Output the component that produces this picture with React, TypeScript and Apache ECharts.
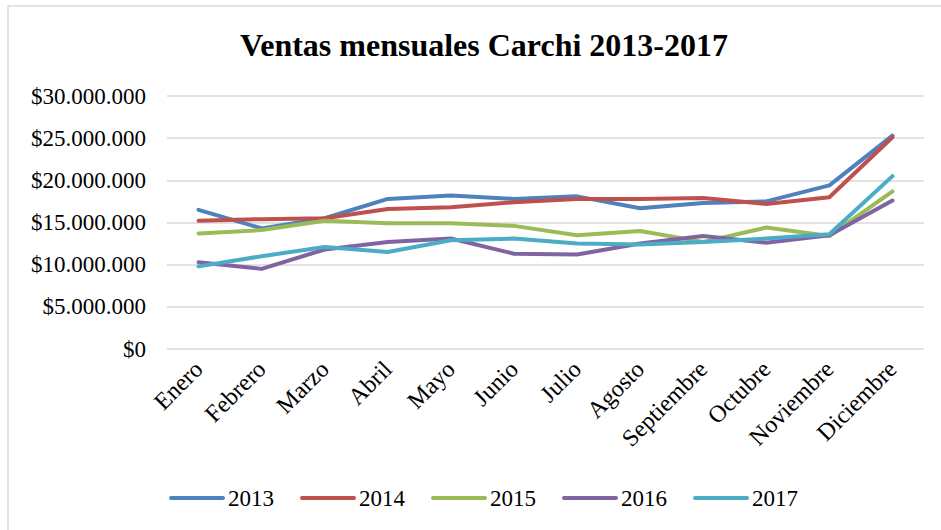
import React, { useEffect, useRef } from "react";
import * as echarts from "echarts";

const months = ["Enero", "Febrero", "Marzo", "Abril", "Mayo", "Junio", "Julio", "Agosto", "Septiembre", "Octubre", "Noviembre", "Diciembre"];
const years = ["2013", "2014", "2015", "2016", "2017"];
const colors = ["#4F81BD", "#C0504D", "#9BBB59", "#8064A2", "#4BACC6"];

const s2013 = [16500000, 14300000, 15500000, 17800000, 18200000, 17800000, 18100000, 16700000, 17300000, 17500000, 19400000, 25300000];
const s2014 = [15200000, 15400000, 15500000, 16600000, 16800000, 17400000, 17800000, 17800000, 17900000, 17200000, 18000000, 25100000];
const s2015 = [13700000, 14100000, 15200000, 14900000, 14900000, 14600000, 13500000, 14000000, 12700000, 14400000, 13400000, 18700000];
const s2016 = [10300000, 9500000, 11800000, 12700000, 13100000, 11300000, 11200000, 12500000, 13400000, 12600000, 13500000, 17600000];
const s2017 = [9800000, 11000000, 12100000, 11500000, 12900000, 13100000, 12500000, 12400000, 12700000, 13100000, 13600000, 20500000];
const seriesData = [s2013, s2014, s2015, s2016, s2017];

const title = "Ventas mensuales Carchi 2013-2017";
const serif = "Liberation Serif";

function fmt(v: number): string {
  const s = Math.round(v).toString().replace(/\B(?=(\d{3})+(?!\d))/g, ".");
  return "$" + s;
}

export default function App() {
  const ref = useRef<HTMLDivElement>(null);
  useEffect(() => {
    if (!ref.current) return;
    const chart = echarts.init(ref.current, undefined, { renderer: "svg" });
    const legendItems: any[] = [];
    years.forEach((name, i) => {
      const x0 = 171 + 131 * i;
      legendItems.push({
        type: "line",
        shape: { x1: x0, y1: 498, x2: x0 + 52, y2: 498 },
        style: { stroke: colors[i], lineWidth: 4, lineCap: "round" },
        silent: true,
      });
      legendItems.push({
        type: "text",
        x: x0 + 57,
        y: 498,
        style: {
          text: name,
          fontFamily: serif,
          fontSize: 23,
          fill: "#000",
          textAlign: "left",
          textVerticalAlign: "middle",
        },
        silent: true,
      });
    });
    chart.setOption({
      animation: false,
      backgroundColor: "#ffffff",
      color: colors,
      textStyle: { fontFamily: serif },
      graphic: [
        {
          type: "rect",
          shape: { x: 8, y: 6, width: 960, height: 560 },
          style: { fill: "none", stroke: "#D9D9D9", lineWidth: 1.5 },
          silent: true,
        },
        {
          type: "text",
          x: 484,
          y: 45,
          style: {
            text: title,
            fontFamily: serif,
            fontSize: 32,
            fontWeight: "bold",
            fill: "#000000",
            textAlign: "center",
            textVerticalAlign: "middle",
          },
        },
        ...legendItems,
      ],
      grid: { left: 167, right: 17, top: 96, bottom: 181, containLabel: false },
      xAxis: {
        type: "category",
        data: months,
        boundaryGap: true,
        axisLine: { show: false },
        axisTick: { show: false },
        axisLabel: {
          rotate: 45,
          margin: 16,
          interval: 0,
          fontFamily: serif,
          fontSize: 24,
          color: "#000",
        },
      },
      yAxis: {
        type: "value",
        min: 0,
        max: 30000000,
        interval: 5000000,
        axisLine: { show: false },
        axisTick: { show: false },
        splitLine: { lineStyle: { color: "#D9D9D9", width: 1.5 } },
        axisLabel: {
          margin: 21,
          fontFamily: serif,
          fontSize: 23,
          color: "#000",
          formatter: (v: number) => fmt(v),
        },
      },
      series: years.map((y, i) => ({
        name: y,
        type: "line",
        data: seriesData[i],
        symbol: "none",
        lineStyle: { width: 4, color: colors[i], cap: "round", join: "round" },
        itemStyle: { color: colors[i] },
      })),
    });
    return () => chart.dispose();
  }, []);
  return <div ref={ref} style={{ position: "fixed", left: 0, top: 0, width: 941, height: 530 }} />;
}
